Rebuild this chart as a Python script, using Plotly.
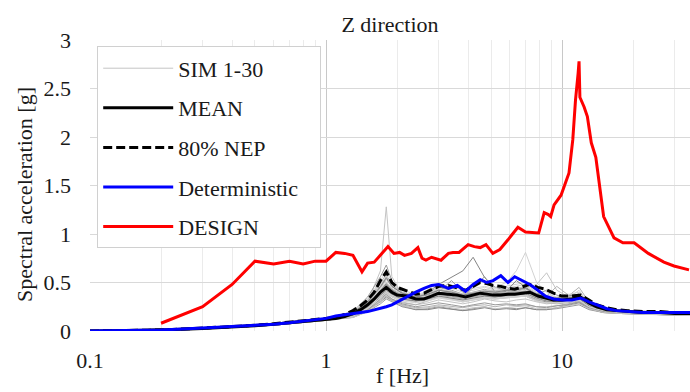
import plotly.graph_objects as go

# ---------------- data ----------------
F_SIM = [0.1, 0.3, 0.6, 1.0, 1.3, 1.5, 1.7, 1.8, 1.9, 2.1, 2.4, 2.7, 3.0, 3.4, 3.8, 4.2,
         4.7, 5.2, 5.8, 6.4, 7.0, 7.8, 8.6, 9.5, 10.5, 11.8, 13, 15, 18, 24, 35]

SIM01 = [0,.03,.07,.12,.18,.30,.62,1.28,.56,.38,.30,.33,.36,.35,.33,.36,.38,.35,.36,.38,.37,.33,.31,.30,.32,.33,.26,.21,.19,.18,.17]
SIM02 = [0,.03,.08,.13,.20,.35,.56,.68,.52,.40,.35,.40,.45,.42,.38,.40,.43,.40,.45,.42,.44,.36,.33,.32,.34,.36,.28,.22,.20,.19,.18]
SIM03 = [0,.02,.06,.11,.15,.22,.32,.36,.32,.27,.24,.25,.27,.25,.24,.26,.27,.25,.27,.26,.27,.25,.25,.26,.28,.30,.24,.20,.19,.18,.17]
SIM04 = [0,.03,.07,.12,.17,.26,.40,.48,.42,.36,.34,.40,.48,.55,.62,.76,.55,.45,.42,.40,.41,.35,.33,.32,.34,.35,.27,.22,.20,.19,.18]
SIM05 = [0,.03,.07,.12,.16,.25,.36,.42,.38,.34,.32,.35,.38,.40,.36,.38,.42,.45,.50,.62,.81,.50,.40,.34,.33,.35,.27,.22,.20,.19,.18]
SIM06 = [0,.03,.07,.12,.17,.28,.42,.50,.44,.38,.35,.37,.40,.38,.36,.39,.41,.40,.42,.45,.44,.48,.60,.42,.36,.38,.28,.22,.20,.19,.18]
SIM07 = [0,.02,.06,.11,.14,.20,.28,.33,.30,.25,.22,.23,.25,.23,.21,.23,.25,.22,.24,.23,.24,.22,.22,.23,.25,.27,.22,.19,.18,.17,.16]
SIM08 = [0,.03,.07,.12,.19,.32,.50,.58,.48,.40,.36,.38,.42,.40,.37,.39,.40,.42,.40,.43,.45,.38,.34,.33,.35,.45,.30,.23,.20,.19,.18]
SIM09 = [0,.03,.07,.12,.16,.24,.35,.40,.36,.33,.30,.34,.38,.36,.33,.35,.37,.36,.35,.37,.38,.32,.30,.30,.31,.33,.26,.21,.19,.18,.17]
SIM10 = [0,.03,.07,.13,.18,.28,.44,.52,.46,.38,.34,.42,.50,.44,.40,.42,.45,.42,.44,.46,.48,.40,.36,.34,.36,.38,.28,.22,.20,.19,.18]
SIM11 = [0,.02,.06,.11,.15,.23,.34,.39,.35,.30,.27,.29,.32,.30,.28,.30,.33,.31,.30,.32,.33,.30,.28,.29,.30,.32,.25,.21,.19,.18,.17]
SIM12 = [0,.03,.07,.12,.17,.27,.40,.46,.40,.35,.33,.36,.40,.52,.40,.37,.40,.38,.39,.40,.41,.35,.32,.31,.33,.34,.27,.22,.20,.19,.18]
SIM13 = [0,.03,.07,.12,.17,.26,.38,.44,.40,.36,.32,.33,.36,.35,.34,.36,.38,.37,.40,.38,.39,.34,.36,.46,.38,.36,.28,.22,.20,.19,.18]
SIM14 = [0,.02,.06,.11,.15,.22,.30,.35,.31,.26,.22,.22,.24,.22,.21,.22,.24,.22,.23,.22,.24,.22,.22,.24,.26,.29,.23,.19,.18,.17,.16]
SIM15 = [0,.03,.08,.13,.20,.33,.52,.62,.50,.42,.38,.40,.44,.46,.42,.44,.46,.44,.46,.48,.50,.42,.37,.35,.37,.40,.30,.23,.21,.20,.19]
SIM16 = [0,.03,.07,.12,.16,.25,.37,.43,.38,.34,.31,.34,.36,.34,.32,.34,.36,.35,.36,.37,.36,.32,.31,.31,.32,.34,.27,.22,.20,.19,.18]
SIM17 = [0,.03,.07,.12,.18,.29,.45,.54,.46,.39,.35,.37,.40,.38,.35,.45,.56,.40,.38,.39,.40,.36,.33,.32,.33,.35,.27,.22,.20,.19,.18]
SIM18 = [0,.02,.06,.11,.14,.21,.31,.37,.33,.29,.27,.31,.35,.33,.30,.32,.34,.33,.34,.35,.36,.31,.29,.28,.29,.31,.25,.20,.18,.17,.16]
SIM19 = [0,.03,.07,.12,.17,.27,.42,.49,.43,.37,.33,.35,.38,.37,.35,.37,.39,.38,.41,.52,.45,.37,.33,.32,.34,.36,.27,.22,.20,.19,.18]
SIM20 = [0,.03,.07,.12,.16,.24,.36,.41,.37,.32,.30,.32,.35,.33,.31,.33,.35,.34,.35,.36,.37,.34,.32,.31,.33,.42,.28,.22,.20,.19,.18]
SIM21 = [0,.03,.07,.13,.19,.31,.48,.56,.47,.40,.36,.39,.43,.41,.38,.40,.42,.41,.43,.44,.46,.39,.35,.34,.35,.37,.28,.22,.20,.19,.18]
SIM22 = [0,.02,.06,.11,.15,.22,.33,.38,.33,.28,.25,.27,.29,.27,.25,.27,.29,.27,.28,.27,.28,.25,.24,.26,.27,.30,.24,.20,.19,.18,.17]
SIM23 = [0,.03,.07,.12,.17,.26,.39,.45,.40,.35,.33,.36,.42,.40,.36,.38,.40,.39,.40,.41,.43,.37,.34,.33,.34,.36,.27,.22,.20,.19,.18]
SIM24 = [0,.03,.07,.12,.16,.25,.37,.42,.38,.33,.31,.33,.36,.34,.32,.34,.36,.35,.37,.38,.39,.34,.31,.30,.32,.34,.26,.21,.19,.18,.17]
SIM25 = [0,.03,.07,.12,.18,.28,.43,.50,.44,.37,.34,.36,.39,.37,.34,.36,.39,.37,.38,.40,.42,.36,.33,.32,.34,.36,.27,.22,.20,.19,.18]
SIM26 = [0,.02,.06,.11,.14,.20,.29,.34,.31,.26,.23,.24,.26,.24,.22,.24,.25,.23,.24,.25,.26,.23,.23,.24,.26,.28,.23,.19,.18,.17,.16]
SIM27 = [0,.03,.07,.12,.17,.27,.41,.47,.41,.36,.33,.35,.39,.37,.34,.36,.38,.37,.39,.40,.41,.38,.42,.37,.34,.36,.27,.22,.20,.19,.18]
SIM28 = [0,.03,.07,.12,.17,.26,.38,.44,.39,.34,.32,.34,.37,.35,.33,.35,.37,.36,.37,.38,.40,.35,.32,.31,.33,.35,.27,.21,.19,.18,.17]
SIM29 = [0,.03,.08,.13,.19,.30,.46,.55,.46,.39,.35,.38,.42,.40,.37,.39,.41,.40,.42,.43,.44,.38,.35,.34,.36,.38,.28,.23,.21,.20,.19]
SIM30 = [0,.02,.06,.11,.15,.23,.34,.40,.36,.31,.29,.31,.34,.32,.30,.32,.34,.33,.34,.35,.36,.31,.29,.29,.30,.32,.25,.21,.19,.18,.17]

SIMS = [SIM01, SIM02, SIM03, SIM04, SIM05, SIM06, SIM07, SIM08, SIM09, SIM10,
        SIM11, SIM12, SIM13, SIM14, SIM15, SIM16, SIM17, SIM18, SIM19, SIM20,
        SIM21, SIM22, SIM23, SIM24, SIM25, SIM26, SIM27, SIM28, SIM29, SIM30]

F_RESP = [0.1, 0.15, 0.2, 0.3, 0.4, 0.5, 0.6, 0.7, 0.8, 0.9, 1.0, 1.1, 1.2, 1.3, 1.4, 1.5,
          1.6, 1.7, 1.8, 1.9, 2.0, 2.2, 2.4, 2.6, 2.8, 3.0, 3.3, 3.6, 3.9, 4.2, 4.5, 4.8,
          5.1, 5.5, 5.9, 6.3, 6.8, 7.3, 7.9, 8.5, 9.2, 10, 11, 12, 13, 14, 15.5, 17, 19,
          22, 26, 30, 35]

MEAN = [0, 0.002, 0.01, 0.025, 0.04, 0.055, 0.07, 0.085, 0.10, 0.11, 0.12, 0.13, 0.15, 0.18,
        0.22, 0.27, 0.33, 0.40, 0.45, 0.40, 0.37, 0.36, 0.33, 0.33, 0.36, 0.39, 0.38, 0.37,
        0.35, 0.37, 0.39, 0.38, 0.37, 0.37, 0.38, 0.38, 0.39, 0.40, 0.36, 0.34, 0.32, 0.32,
        0.33, 0.35, 0.29, 0.25, 0.22, 0.21, 0.20, 0.19, 0.19, 0.18, 0.18]

NEP80 = [0, 0.003, 0.01, 0.03, 0.045, 0.06, 0.075, 0.09, 0.105, 0.115, 0.125, 0.14, 0.17,
         0.21, 0.26, 0.32, 0.40, 0.52, 0.61, 0.50, 0.45, 0.41, 0.38, 0.39, 0.43, 0.46, 0.47,
         0.44, 0.42, 0.46, 0.50, 0.49, 0.47, 0.46, 0.44, 0.43, 0.46, 0.48, 0.45, 0.43, 0.39,
         0.36, 0.36, 0.37, 0.32, 0.27, 0.24, 0.22, 0.21, 0.20, 0.20, 0.19, 0.19]

DETERMINISTIC = [0, 0.003, 0.01, 0.03, 0.045, 0.06, 0.07, 0.085, 0.10, 0.115, 0.13, 0.155,
                 0.165, 0.18, 0.19, 0.20, 0.215, 0.23, 0.25, 0.27, 0.30, 0.35, 0.40, 0.44,
                 0.47, 0.48, 0.44, 0.47, 0.41, 0.48, 0.53, 0.50, 0.52, 0.57, 0.50, 0.56,
                 0.52, 0.48, 0.42, 0.36, 0.33, 0.32, 0.32, 0.34, 0.30, 0.27, 0.23, 0.21,
                 0.20, 0.19, 0.19, 0.19, 0.19]

F_DESIGN = [0.2, 0.3, 0.4, 0.5, 0.6, 0.7, 0.8, 0.9, 1.0, 1.1, 1.2, 1.3, 1.42, 1.5, 1.6,
            1.83, 1.94, 2.05, 2.15, 2.3, 2.45, 2.55, 2.65, 2.8, 3.07, 3.3, 3.45, 3.66, 4.0,
            4.25, 4.5, 4.76, 5.09, 5.45, 5.9, 6.5, 7.0, 7.96, 8.4, 8.75, 8.95, 9.25, 9.9,
            10.0, 10.7, 11.1, 11.4, 11.7, 11.8, 11.9, 12.4, 12.8, 13.3, 13.9, 14.3, 14.6,
            15.0, 16.6, 18.1, 20.2, 23.2, 27, 29.8, 34.5]
DESIGN = [0.08, 0.25, 0.48, 0.72, 0.69, 0.72, 0.69, 0.72, 0.72, 0.81, 0.80, 0.78, 0.61,
          0.70, 0.71, 0.87, 0.80, 0.81, 0.78, 0.80, 0.86, 0.75, 0.73, 0.76, 0.73, 0.80,
          0.81, 0.81, 0.89, 0.87, 0.86, 0.89, 0.80, 0.84, 0.94, 1.07, 1.02, 1.01, 1.22,
          1.20, 1.18, 1.30, 1.40, 1.43, 1.63, 1.97, 2.38, 2.66, 2.78, 2.41, 2.31, 2.21,
          1.94, 1.79, 1.56, 1.35, 1.18, 0.96, 0.91, 0.91, 0.80, 0.71, 0.67, 0.63]

LEGEND_NAMES = ["SIM 1-30", "MEAN", "80% NEP", "Deterministic", "DESIGN"]
TITLE = "Z direction"
X_TITLE = "f [Hz]"
Y_TITLE = "Spectral acceleration [g]"

# ---------------- figure ----------------
FONT = "Liberation Serif"
FS = 22
TXT = "#1a1a1a"
SIM_COLORS = ["#c4c4c4", "#9a9a9a", "#b3b3b3", "#858585", "#d2d2d2"]

fig = go.Figure()
for i, s in enumerate(SIMS):
    fig.add_trace(go.Scatter(
        x=F_SIM, y=s, mode="lines", name=LEGEND_NAMES[0],
        line=dict(color=SIM_COLORS[i % len(SIM_COLORS)], width=1),
        legendgroup="sim", showlegend=(i == 0), hoverinfo="skip"))

fig.add_trace(go.Scatter(x=F_RESP, y=MEAN, mode="lines", name=LEGEND_NAMES[1],
                         legendgroup="mean", line=dict(color="black", width=3)))
fig.add_trace(go.Scatter(x=F_RESP, y=NEP80, mode="lines", name=LEGEND_NAMES[2],
                         legendgroup="nep", line=dict(color="black", width=3, dash="9px,4px")))
fig.add_trace(go.Scatter(x=F_RESP, y=DETERMINISTIC, mode="lines",
                         name=LEGEND_NAMES[3] + "\u00a0\u00a0\u00a0",
                         legendgroup="det", line=dict(color="#0000ff", width=3)))
fig.add_trace(go.Scatter(x=F_DESIGN, y=DESIGN, mode="lines", name=LEGEND_NAMES[4],
                         legendgroup="design", line=dict(color="#ff0000", width=3)))

fig.update_layout(
    width=690, height=392,
    margin=dict(l=90, r=0, t=40, b=61),
    paper_bgcolor="white", plot_bgcolor="white",
    font=dict(family=FONT, size=FS, color=TXT),
    title=dict(text=TITLE, x=0.5, xref="paper", y=1 - 24 / 392, yref="container",
               yanchor="middle", xanchor="center",
               font=dict(family=FONT, size=FS, color=TXT)),
    showlegend=True,
    legend=dict(x=0.012, y=0.978, xanchor="left", yanchor="top",
                bgcolor="white", bordercolor="#d0d0d0", borderwidth=1,
                traceorder="grouped", tracegroupgap=8,
                font=dict(family=FONT, size=FS, color=TXT),
                itemwidth=70),
    xaxis=dict(type="log", range=[-1, 1.542], dtick=1, showgrid=True,
               gridcolor="#c8c8c8", gridwidth=1, zeroline=False, showline=False,
               ticks="", ticklabelstandoff=14,
               tickfont=dict(family=FONT, size=FS, color=TXT),
               minor=dict(dtick="D1", showgrid=True, gridcolor="#ebebeb", ticks="")),
    yaxis=dict(range=[0, 3], dtick=0.5, showgrid=True, gridcolor="#d9d9d9",
               zeroline=False, showline=False, ticks="", ticklabelstandoff=18,
               tickfont=dict(family=FONT, size=FS, color=TXT)),
    annotations=[
        dict(text=X_TITLE, xref="paper", yref="paper", x=(402 - 90) / 600,
             y=-(390 - 331) / 291, xanchor="center", yanchor="bottom",
             showarrow=False, font=dict(family=FONT, size=FS, color=TXT)),
        dict(text=Y_TITLE, xref="paper", yref="paper", x=-(90 - 24) / 600,
             y=(331 - 195) / 291, xanchor="center", yanchor="middle", textangle=-90,
             showarrow=False, font=dict(family=FONT, size=FS, color=TXT)),
    ],
)

fig.write_html("out.html")
